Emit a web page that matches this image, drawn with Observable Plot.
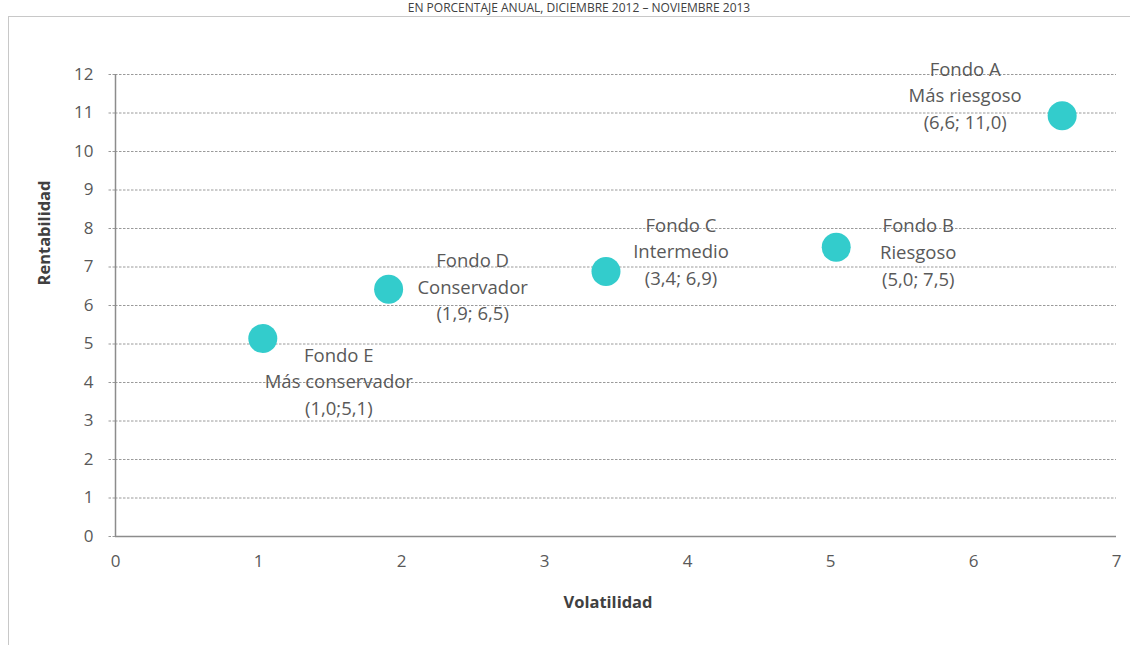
<!DOCTYPE html>
<html>
<head>
<meta charset="utf-8">
<script src="https://cdn.jsdelivr.net/npm/d3@7"></script>
<script src="https://cdn.jsdelivr.net/npm/@observablehq/plot@0.6"></script>
<style>
  html, body { margin: 0; padding: 0; background: #fff; overflow: hidden; }
  #wrap { position: relative; width: 1130px; height: 645px; }
  #border { position: absolute; left: 8px; top: 16px; width: 1300px; height: 800px;
            border-left: 1px solid #c8c8c8; border-top: 1px solid #c8c8c8; }
  #chart { position: absolute; left: 0; top: 0; }
</style>
</head>
<body>
<div id="wrap"><div id="border"></div><div id="chart"></div></div>
<script>
const titleText = "EN PORCENTAJE ANUAL, DICIEMBRE 2012 – NOVIEMBRE 2013";
const funds = ["Fondo A", "Fondo B", "Fondo C", "Fondo D", "Fondo E"];
const profiles = ["Más riesgoso", "Riesgoso", "Intermedio", "Conservador", "Más conservador"];
const pointLabels = ["(6,6; 11,0)", "(5,0; 7,5)", "(3,4; 6,9)", "(1,9; 6,5)", "(1,0;5,1)"];
const volatilidad = [6.62, 5.04, 3.43, 1.91, 1.03];
const rentabilidad = [10.93, 7.51, 6.88, 6.42, 5.14];
const xTicks = [0, 1, 2, 3, 4, 5, 6, 7];
const yTicks = [0, 1, 2, 3, 4, 5, 6, 7, 8, 9, 10, 11, 12];

const data = funds.map((f, i) => ({
  fund: f,
  x: volatilidad[i],
  y: rentabilidad[i],
  label: f + "\n" + profiles[i] + "\n" + pointLabels[i]
}));

// label offsets (pixels) relative to each point
const offsets = {
  "Fondo A": [-97, -22],
  "Fondo B": [82, 3],
  "Fondo C": [75, -22],
  "Fondo D": [84, -4],
  "Fondo E": [76, 41]
};

const font = "'Open Sans', Lato, sans-serif";
const labelMarks = data.map(d => Plot.text([d], {
  x: "x", y: "y", text: "label",
  dx: offsets[d.fund][0], dy: offsets[d.fund][1],
  fontSize: 18.5, lineHeight: 1.44, fill: "#595959", textAnchor: "middle"
}));

const chart = Plot.plot({
  width: 1130,
  height: 645,
  marginLeft: 115,
  marginRight: 14,
  marginTop: 74,
  marginBottom: 109,
  style: { fontFamily: font, background: "transparent", overflow: "visible" },
  x: { domain: [0, 7], ticks: xTicks, tickFormat: "d" },
  y: { domain: [0, 12], ticks: yTicks, tickFormat: "d" },
  marks: [
    Plot.ruleY(yTicks.filter(d => d > 0), { stroke: "#9a9a9a", strokeWidth: 1, strokeDasharray: "2.5,1.5" }),
    Plot.axisY({ ticks: yTicks, tickFormat: "d", tickSize: 7, tickPadding: 15, stroke: "#9a9a9a", strokeDasharray: "2.5,1.5",
                 fontSize: 17, fill: "#595959", label: null }),
    Plot.axisX({ ticks: xTicks, tickFormat: "d", tickSize: 0, tickPadding: 18, fontSize: 17, fill: "#595959", label: null }),
    Plot.ruleX([0], { stroke: "#8c8c8c", strokeWidth: 1.5 }),
    Plot.ruleY([0], { stroke: "#8c8c8c", strokeWidth: 1.5 }),
    Plot.dot(data, { x: "x", y: "y", r: 14.5, fill: "#33CCCC", stroke: null }),
    ...labelMarks,
    Plot.text(["Volatilidad"], { frameAnchor: "bottom", dx: -8, dy: 71, fontSize: 16.5, fontWeight: "bold", fill: "#404040" }),
    Plot.text(["Rentabilidad"], { frameAnchor: "left", dx: -71, dy: -20, rotate: -90, fontSize: 16.5, fontWeight: "bold", fill: "#404040" }),
    Plot.text([titleText], { frameAnchor: "top", lineAnchor: "top", dx: -37, dy: -71, fontSize: 12, fill: "#404040" })
  ]
});
document.getElementById("chart").appendChild(chart);
</script>
</body>
</html>
